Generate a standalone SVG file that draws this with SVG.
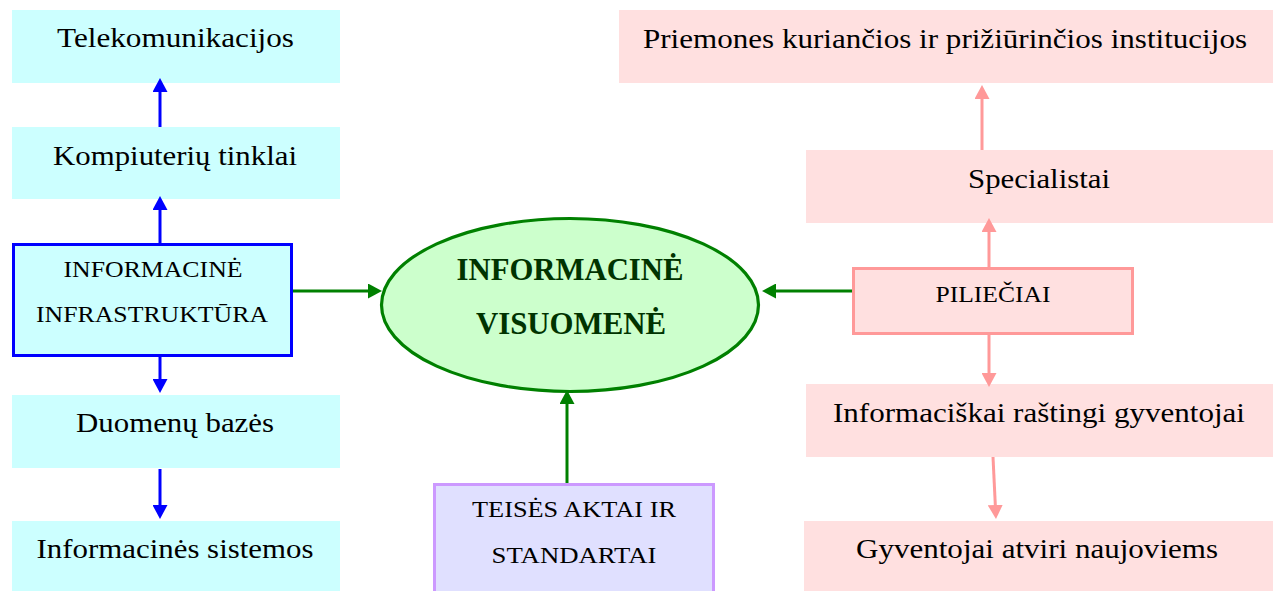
<svg xmlns="http://www.w3.org/2000/svg" width="1273" height="591" viewBox="0 0 1273 591" font-family="'Liberation Serif', 'Times New Roman', serif">
<style>
  text { font-family: "Liberation Serif", "Times New Roman", serif; fill: #000; text-anchor: middle; }
  .big { font-size: 28px; }
  .cap { font-size: 23px; }
  .bold { font-size: 31px; font-weight: bold; fill: #003300; }
  .cyan { fill: #ccffff; }
  .pink { fill: #ffe0e0; }
  .blue { stroke: #0000ff; stroke-width: 3; fill: none; marker-end: url(#ab); }
  .green { stroke: #008000; stroke-width: 3; fill: none; marker-end: url(#ag); }
  .rose { stroke: #ff9999; stroke-width: 3; fill: none; marker-end: url(#ar); }
</style>
<defs>
  <marker id="ab" markerUnits="userSpaceOnUse" markerWidth="14" markerHeight="15" refX="4" refY="7.5" orient="auto"><path d="M0,0 L14,7.5 L0,15 z" fill="#0000ff"/></marker>
  <marker id="ag" markerUnits="userSpaceOnUse" markerWidth="14" markerHeight="15" refX="4" refY="7.5" orient="auto"><path d="M0,0 L14,7.5 L0,15 z" fill="#008000"/></marker>
  <marker id="ar" markerUnits="userSpaceOnUse" markerWidth="14" markerHeight="15" refX="4" refY="7.5" orient="auto"><path d="M0,0 L14,7.5 L0,15 z" fill="#ff9999"/></marker>
</defs>
<rect width="1273" height="591" fill="#ffffff"/>

<g id="telekomunikacijos">
  <rect class="cyan" x="12" y="10" width="328" height="73"/>
  <text class="big" x="175.5" y="47" textLength="237" lengthAdjust="spacingAndGlyphs">Telekomunikacijos</text>
</g>
<g id="kompiuteriu-tinklai">
  <rect class="cyan" x="12" y="127" width="328" height="72"/>
  <text class="big" x="175" y="165" textLength="244" lengthAdjust="spacingAndGlyphs">Kompiuterių tinklai</text>
</g>
<g id="informacine-infrastruktura">
  <rect x="13.5" y="244.5" width="278" height="111" fill="#ccffff" stroke="#0000ff" stroke-width="3"/>
  <text class="cap" x="153" y="277" textLength="179" lengthAdjust="spacingAndGlyphs">INFORMACINĖ</text>
  <text class="cap" x="152" y="322" textLength="232" lengthAdjust="spacingAndGlyphs">INFRASTRUKTŪRA</text>
</g>
<g id="duomenu-bazes">
  <rect class="cyan" x="12" y="395" width="328" height="73"/>
  <text class="big" x="175" y="432" textLength="198" lengthAdjust="spacingAndGlyphs">Duomenų bazės</text>
</g>
<g id="informacines-sistemos">
  <rect class="cyan" x="12" y="521" width="328" height="72"/>
  <text class="big" x="175" y="558" textLength="277" lengthAdjust="spacingAndGlyphs">Informacinės sistemos</text>
</g>

<g id="informacine-visuomene">
  <ellipse cx="570" cy="305" rx="188.5" ry="86.5" fill="#ccffcc" stroke="#008000" stroke-width="3.2"/>
  <text class="bold" x="570" y="280" textLength="227" lengthAdjust="spacingAndGlyphs">INFORMACINĖ</text>
  <text class="bold" x="571" y="334" textLength="190" lengthAdjust="spacingAndGlyphs">VISUOMENĖ</text>
</g>

<g id="teises-aktai">
  <rect x="434.5" y="484.5" width="279" height="115" fill="#e0e0ff" stroke="#cc99ff" stroke-width="3"/>
  <text class="cap" x="574" y="517" textLength="204" lengthAdjust="spacingAndGlyphs">TEISĖS AKTAI IR</text>
  <text class="cap" x="574" y="563" textLength="165" lengthAdjust="spacingAndGlyphs">STANDARTAI</text>
</g>

<g id="priemones">
  <rect class="pink" x="619" y="10" width="654" height="73"/>
  <text class="big" x="945" y="48" textLength="604" lengthAdjust="spacingAndGlyphs">Priemones kuriančios ir prižiūrinčios institucijos</text>
</g>
<g id="specialistai">
  <rect class="pink" x="806" y="150" width="467" height="73"/>
  <text class="big" x="1039" y="188" textLength="142" lengthAdjust="spacingAndGlyphs">Specialistai</text>
</g>
<g id="pilieciai">
  <rect x="853.5" y="268.5" width="279" height="65" fill="#ffe0e0" stroke="#ff9999" stroke-width="3"/>
  <text class="cap" x="993" y="302" textLength="115" lengthAdjust="spacingAndGlyphs">PILIEČIAI</text>
</g>
<g id="informaciskai-rastingi">
  <rect class="pink" x="806" y="384" width="467" height="73"/>
  <text class="big" x="1039" y="422" textLength="412" lengthAdjust="spacingAndGlyphs">Informaciškai raštingi gyventojai</text>
</g>
<g id="gyventojai-atviri">
  <rect class="pink" x="804" y="521" width="469" height="72"/>
  <text class="big" x="1037" y="558" textLength="362" lengthAdjust="spacingAndGlyphs">Gyventojai atviri naujoviems</text>
</g>

<g id="connectors">
  <line class="blue" x1="160" y1="127" x2="160" y2="88"/>
  <line class="blue" x1="160" y1="243" x2="160" y2="206"/>
  <line class="blue" x1="160" y1="357" x2="160" y2="383"/>
  <line class="blue" x1="160" y1="469" x2="160" y2="509"/>
  <line class="green" x1="293" y1="291" x2="372" y2="291"/>
  <line class="green" x1="852" y1="291" x2="772" y2="291"/>
  <line class="green" x1="567" y1="483" x2="567" y2="400"/>
  <line class="rose" x1="982" y1="150" x2="982" y2="95"/>
  <line class="rose" x1="989" y1="267" x2="989" y2="228"/>
  <line class="rose" x1="989" y1="335" x2="989" y2="377"/>
  <line class="rose" x1="993" y1="457" x2="995.5" y2="509"/>
</g>
</svg>
